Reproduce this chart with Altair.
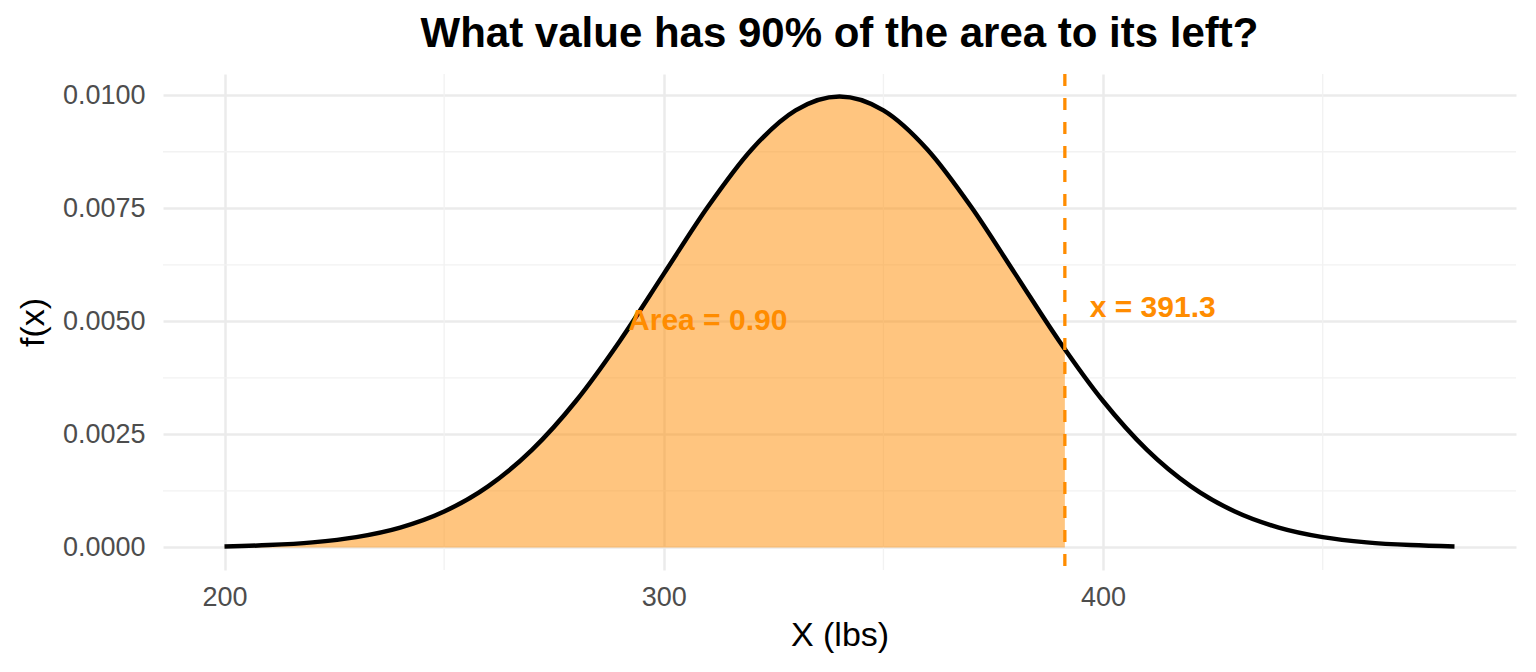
import altair as alt
import pandas as pd

# ---- data ----
x_vals = [200, 210, 220, 230, 240, 250, 260, 270, 280, 290, 300, 310, 320, 330, 340,
          350, 360, 370, 380, 390, 400, 410, 420, 430, 440, 450, 460, 470, 480]
density = [0.0000218, 0.0000507, 0.0001108, 0.0002273, 0.0004382, 0.0007935, 0.0013498,
           0.0021570, 0.0032381, 0.0045664, 0.0060495, 0.0075288, 0.0088020, 0.0096671,
           0.0099736,
           0.0096671, 0.0088020, 0.0075288, 0.0060495, 0.0045664, 0.0032381, 0.0021570,
           0.0013498, 0.0007935, 0.0004382, 0.0002273, 0.0001108, 0.0000507, 0.0000218]
cutoff = 391.3
cutoff_density = 0.00439

x_major = [200, 300, 400]
x_minor = [250, 350, 450]
y_major = [0.0, 0.0025, 0.005, 0.0075, 0.01]
y_minor = [0.00125, 0.00375, 0.00625, 0.00875]

area_label = ["Area = 0.90"]
area_label_x = [310]
area_label_y = [0.005]
cut_label = ["x = 391.3"]
cut_label_x = [411.3]
cut_label_y = [0.0053]

title_text = "What value has 90% of the area to its left?"

# ---- tables ----
curve = pd.DataFrame({"x": x_vals, "y": density})
shade_x = [v for v in x_vals if v <= cutoff] + [cutoff]
shade_y = [d for v, d in zip(x_vals, density) if v <= cutoff] + [cutoff_density]
shade = pd.DataFrame({"x": shade_x, "y": shade_y})

FONT = "Liberation Sans"
ORANGE = "#FF8C00"

xs = alt.Scale(domain=[186, 494], nice=False, zero=False)
ys = alt.Scale(domain=[-0.0005, 0.01047], nice=False, zero=False)

axis_style = dict(grid=True, domain=False, ticks=False,
                  labelFont=FONT, labelFontSize=27, labelColor="#4D4D4D",
                  titleFont=FONT, titleFontSize=34, titleColor="black",
                  titleFontWeight="normal", gridColor="#EBEBEB", gridWidth=2.5)

xaxis = alt.Axis(values=x_major, title="X (lbs)", labelPadding=14, titlePadding=8,
                 **axis_style)
yaxis = alt.Axis(values=y_major, title="f(x)", format=".4f", labelPadding=18,
                 titlePadding=12, **axis_style)

X = lambda: alt.X("x:Q", scale=xs, axis=xaxis, title="X (lbs)")
Y = lambda: alt.Y("y:Q", scale=ys, axis=yaxis, title="f(x)")

minor_v = alt.Chart(pd.DataFrame({"x": x_minor})).mark_rule(
    color="#F2F2F2", strokeWidth=1.3).encode(x=X())
minor_h = alt.Chart(pd.DataFrame({"y": y_minor})).mark_rule(
    color="#F2F2F2", strokeWidth=1.3).encode(y=Y())

area = alt.Chart(shade).mark_area(color=ORANGE, opacity=0.5, interpolate="monotone").encode(
    x=X(), y=Y())
line = alt.Chart(curve).mark_line(color="black", strokeWidth=4.5, interpolate="monotone").encode(
    x=X(), y=Y())
vline = alt.Chart(pd.DataFrame({"x": [cutoff]})).mark_rule(
    color=ORANGE, strokeWidth=3.3, strokeDash=[12, 12]).encode(x=X())

t1 = alt.Chart(pd.DataFrame({"x": area_label_x, "y": area_label_y, "t": area_label})).mark_text(
    font=FONT, fontSize=30, fontWeight="bold", color=ORANGE, align="center", baseline="middle"
).encode(x=X(), y=Y(), text="t:N")
t2 = alt.Chart(pd.DataFrame({"x": cut_label_x, "y": cut_label_y, "t": cut_label})).mark_text(
    font=FONT, fontSize=30, fontWeight="bold", color=ORANGE, align="center", baseline="middle"
).encode(x=X(), y=Y(), text="t:N")

chart = alt.layer(minor_v, minor_h, area, line, vline, t1, t2).properties(
    width=1353, height=496,
    background="white",
    autosize=alt.AutoSizeParams(type="none"),
    padding={"left": 155, "top": 66, "right": 12, "bottom": 90},
    title=alt.TitleParams(title_text, anchor="middle", frame="group", font=FONT,
                          fontSize=42, fontWeight="bold", color="black", offset=16),
).configure_view(stroke=None)

chart.save("out.html", embed_options={"renderer": "svg", "actions": False})
